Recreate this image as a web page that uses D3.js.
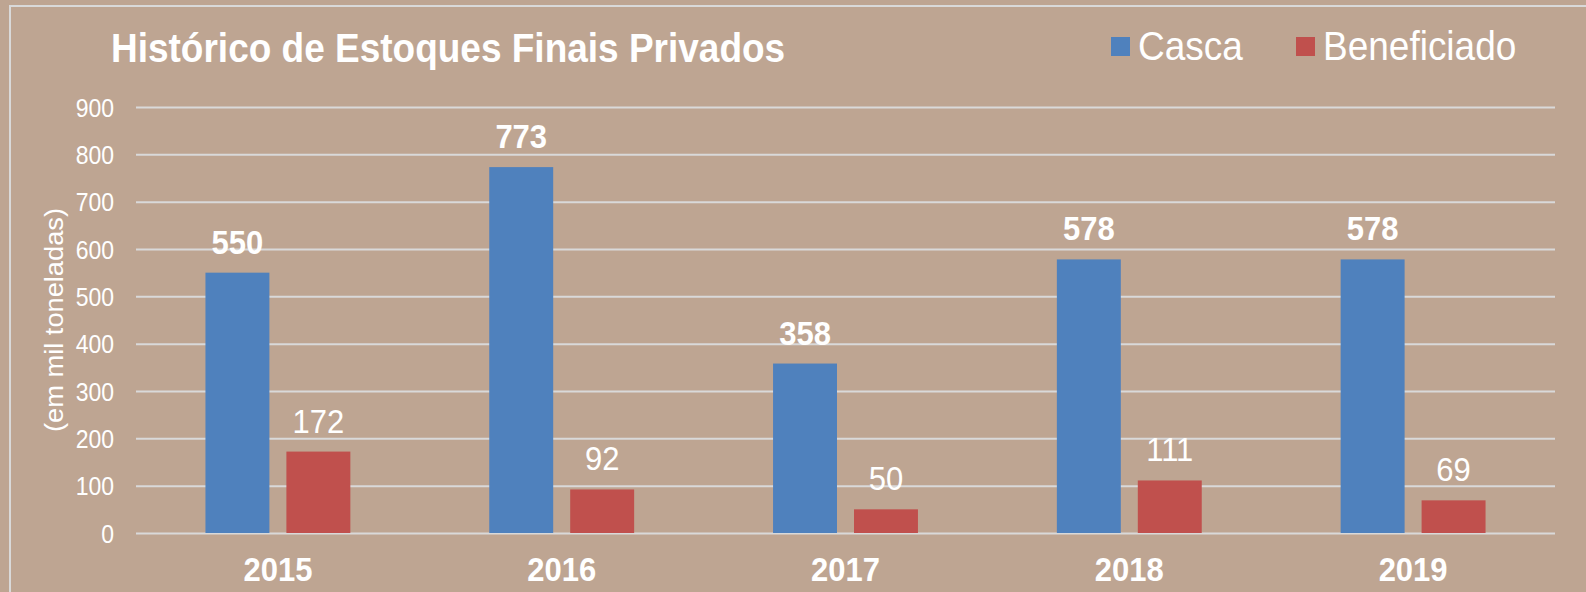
<!DOCTYPE html>
<html>
<head>
<meta charset="utf-8">
<script src="https://cdn.jsdelivr.net/npm/d3@7"></script>
<style>
  body { margin: 0; background: #BEA592; }
  svg { display: block; font-family: Arial, "Liberation Sans", sans-serif; }
</style>
</head>
<body>
<div id="viz"></div>
<script>
    // chart data
    var years = ['2015', '2016', '2017', '2018', '2019'];
    var series = ['Casca', 'Beneficiado'];
    var casca = [550, 773, 358, 578, 578];
    var beneficiado = [172, 92, 50, 111, 69];
    var yTicks = [0, 100, 200, 300, 400, 500, 600, 700, 800, 900];
    var colors = ['#4F81BD', '#C0504D'];

    var width = 1586;
    var height = 592;
    var sy = 1.09; // text in the original looks a bit taller than wide

    var margin = { top: 107, bottom: 59, left: 136, right: 31 };

    var svg = d3.select('#viz')
        .append('svg')
        .attr('width', width)
        .attr('height', height);

    function place(x, y) {
        return 'translate(' + x + ',' + y + ') scale(1,' + sy + ')';
    }

    // outer frame lines
    svg.append('line')
        .attr('x1', 10).attr('x2', width).attr('y1', 6).attr('y2', 6)
        .attr('stroke', '#D9D9D9').attr('stroke-width', 2);
    svg.append('line')
        .attr('x1', 10).attr('x2', 10).attr('y1', 5).attr('y2', height)
        .attr('stroke', '#D9D9D9').attr('stroke-width', 2);

    var xScale = d3.scaleBand()
        .domain(years)
        .range([margin.left, width - margin.right])
        .paddingInner(0)
        .paddingOuter(0);

    var xSub = d3.scaleBand()
        .domain(series)
        .range([0, xScale.bandwidth()])
        .paddingInner(0.21)
        .paddingOuter(0.858);

    var yScale = d3.scaleLinear()
        .domain([0, 900])
        .range([height - margin.bottom, margin.top]);

    // gridlines
    var yAxis = d3.axisLeft(yScale)
        .tickValues(yTicks)
        .tickSize(-(width - margin.left - margin.right))
        .tickPadding(22);

    var gy = svg.append('g')
        .attr('class', 'y-axis')
        .attr('transform', 'translate(' + margin.left + ',0)')
        .call(yAxis);
    gy.select('.domain').remove();
    gy.selectAll('line').attr('stroke', '#D9D9D9').attr('stroke-width', 2);
    gy.selectAll('text')
        .attr('fill', '#FFFFFF')
        .style('font-size', '23px')
        .attr('x', null)
        .attr('dy', '0.36em')
        .attr('transform', place(-22, 0));

    var rows = years.map(function (y, i) {
        return { year: y, values: [casca[i], beneficiado[i]] };
    });

    var groups = svg.selectAll('.grp')
        .data(rows)
        .enter()
        .append('g')
        .attr('class', 'grp')
        .attr('transform', function (d) { return 'translate(' + xScale(d.year) + ',0)'; });

    var bars = groups.selectAll('.bar')
        .data(function (d) { return d.values.map(function (v, j) { return { s: series[j], v: v, j: j }; }); })
        .enter();

    bars.append('rect')
        .attr('class', 'bar')
        .attr('x', function (d) { return xSub(d.s); })
        .attr('y', function (d) { return yScale(d.v); })
        .attr('width', xSub.bandwidth())
        .attr('height', function (d) { return yScale(0) - yScale(d.v); })
        .attr('fill', function (d) { return colors[d.j]; });

    bars.append('text')
        .attr('transform', function (d) {
            return place(xSub(d.s) + xSub.bandwidth() / 2, yScale(d.v) - 19);
        })
        .attr('text-anchor', 'middle')
        .attr('fill', '#FFFFFF')
        .style('font-size', '31px')
        .style('font-weight', function (d) { return d.j === 0 ? 'bold' : 'normal'; })
        .text(function (d) { return d.v; });

    // category labels
    svg.selectAll('.cat')
        .data(years)
        .enter()
        .append('text')
        .attr('class', 'cat')
        .attr('transform', function (d) { return place(xScale(d) + xScale.bandwidth() / 2, 581); })
        .attr('text-anchor', 'middle')
        .attr('fill', '#FFFFFF')
        .style('font-size', '31px')
        .style('font-weight', 'bold')
        .text(function (d) { return d; });

    // y axis label
    svg.append('text')
        .attr('transform', 'translate(63,320) rotate(-90) scale(' + sy + ',1)')
        .attr('text-anchor', 'middle')
        .attr('fill', '#FFFFFF')
        .style('font-size', '25px')
        .text('(em mil toneladas)');

    // title
    svg.append('text')
        .attr('transform', place(111, 62))
        .attr('fill', '#FFFFFF')
        .style('font-size', '37px')
        .style('font-weight', 'bold')
        .text('Histórico de Estoques Finais Privados');

    // legend
    var legendX = [1111, 1296];
    var legend = svg.selectAll('.legend')
        .data(series)
        .enter()
        .append('g')
        .attr('class', 'legend')
        .attr('transform', function (d, i) { return 'translate(' + legendX[i] + ',37)'; });

    legend.append('rect')
        .attr('width', 19)
        .attr('height', 19)
        .attr('fill', function (d, i) { return colors[i]; });

    legend.append('text')
        .attr('transform', place(27, 23))
        .attr('fill', '#FFFFFF')
        .style('font-size', '37px')
        .text(function (d) { return d; });
</script>
</body>
</html>
